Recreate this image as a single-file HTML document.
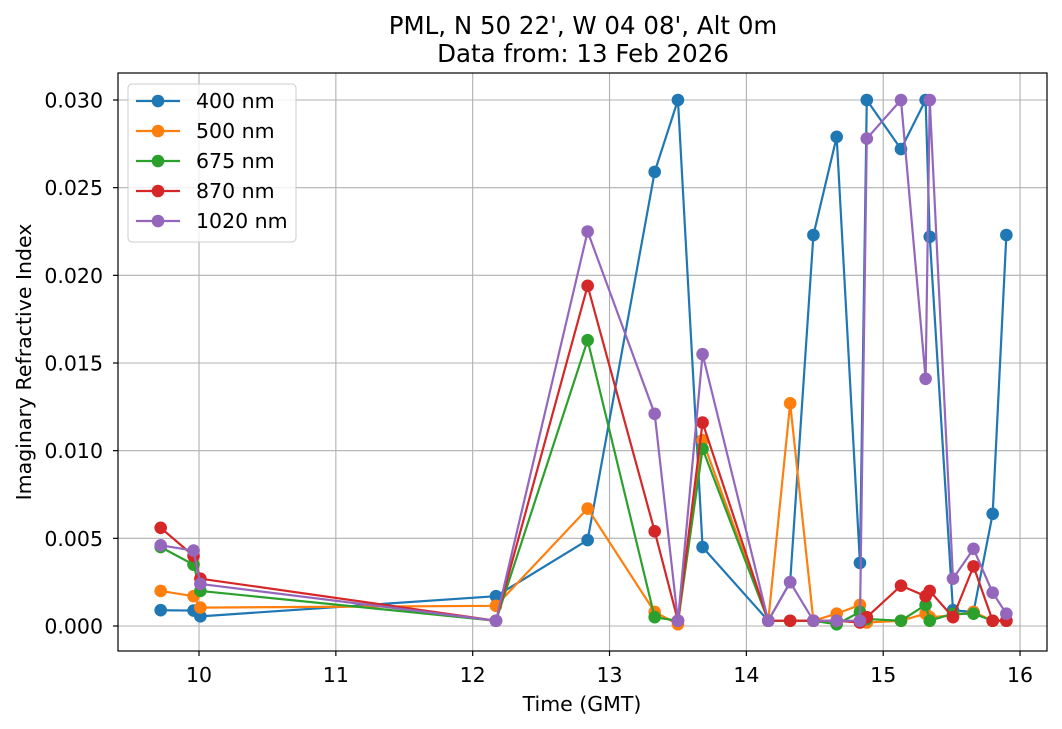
<!DOCTYPE html>
<html><head><meta charset="utf-8"><style>
body{margin:0;background:#fff;}
svg{display:block;font-family:"DejaVu Sans","Liberation Sans",sans-serif;}
</style></head><body>
<svg id="chart" width="1062" height="729" viewBox="0 0 1062 729" xmlns="http://www.w3.org/2000/svg">
<rect width="1062" height="729" fill="#fff"/>
<text x="583" y="34" font-size="24.5" text-anchor="middle">PML, N 50 22', W 04 08', Alt 0m</text>
<text x="583" y="62" font-size="24.5" text-anchor="middle">Data from: 13 Feb 2026</text>
<g id="grid"></g>
<g id="series"></g>
<rect x="118" y="73" width="929" height="578" fill="none" stroke="#000" stroke-width="1.2"/>
<g id="ticks"></g>
<text x="582" y="711" font-size="20.5" text-anchor="middle">Time (GMT)</text>
<text x="31" y="362" font-size="20.5" text-anchor="middle" transform="rotate(-90 31 362)">Imaginary Refractive Index</text>
<g id="legend"></g>
</svg>
<script>
const times = [9.72,9.96,10.01,12.17,12.84,13.33,13.50,13.68,14.16,14.32,14.49,14.66,14.83,14.88,15.13,15.31,15.34,15.51,15.66,15.80,15.90];
const s400 = [0.0009,0.00088,0.00055,0.0017,0.0049,0.0259,0.030,0.0045,0.0003,0.0025,0.0223,0.0279,0.0036,0.030,0.0272,0.030,0.0222,0.0009,0.0008,0.0064,0.0223];
const s500 = [0.0020,0.0017,0.00105,0.00115,0.0067,0.0008,0.0001,0.0106,0.0003,0.0127,0.0003,0.0007,0.0012,0.0002,0.0003,0.0007,0.0005,0.0006,0.0008,0.0003,0.0003];
const s675 = [0.0045,0.0035,0.0020,0.0003,0.0163,0.0005,0.0003,0.0101,0.0003,0.0003,0.0003,0.0001,0.0008,0.0004,0.0003,0.0012,0.0003,0.0007,0.0007,0.0003,0.0003];
const s870 = [0.0056,0.0040,0.0027,0.0003,0.0194,0.0054,0.0003,0.0116,0.0003,0.0003,0.0003,0.0003,0.0002,0.0005,0.0023,0.0017,0.0020,0.0005,0.0034,0.0003,0.0003];
const s1020 = [0.0046,0.0043,0.0024,0.0003,0.0225,0.0121,0.0003,0.0155,0.0003,0.0025,0.0003,0.0003,0.0003,0.0278,0.030,0.0141,0.030,0.0027,0.0044,0.0019,0.0007];
const seriesNames = ["400 nm","500 nm","675 nm","870 nm","1020 nm"];
const xTicks = [10,11,12,13,14,15,16];
const yTicks = [0,0.005,0.010,0.015,0.020,0.025,0.030];
const yTickLabels = ["0.000","0.005","0.010","0.015","0.020","0.025","0.030"];

const NS="http://www.w3.org/2000/svg";
const X0=118,X1=1047,Y0=73,Y1=651;
const xmin=9.408,xmax=16.197,ymin=-0.001426,ymax=0.03154;
const xs=v=>X0+(v-xmin)/(xmax-xmin)*(X1-X0);
const ys=v=>Y1-(v-ymin)/(ymax-ymin)*(Y1-Y0);
function mk(tag,attrs,parent){const e=document.createElementNS(NS,tag);for(const k in attrs)e.setAttribute(k,attrs[k]);parent.appendChild(e);return e;}
const grid=document.getElementById('grid'),ticks=document.getElementById('ticks'),ser=document.getElementById('series'),leg=document.getElementById('legend');
xTicks.forEach(t=>{
  const x=xs(t);
  const g=mk('line',{x1:x,x2:x,y1:Y0,y2:Y1,stroke:'#b0b0b0','stroke-width':1.1},grid);
  
  
  mk('line',{x1:x,x2:x,y1:Y1,y2:Y1+5,stroke:'#000','stroke-width':1.2},ticks);
  const tx=mk('text',{x:x,y:Y1+31,'font-size':20.5,'text-anchor':'middle'},ticks);
  tx.textContent=t;
  
  
});
yTicks.forEach((t,i)=>{
  const y=ys(t);
  const g=mk('line',{x1:X0,x2:X1,y1:y,y2:y,stroke:'#b0b0b0','stroke-width':1.1},grid);
  
  
  mk('line',{x1:X0-5,x2:X0,y1:y,y2:y,stroke:'#000','stroke-width':1.2},ticks);
  const tx=mk('text',{x:X0-15,y:y+7.5,'font-size':20.5,'text-anchor':'end'},ticks);
  tx.textContent=yTickLabels[i];
  
  
});
const allSeries=[s400,s500,s675,s870,s1020];
const colors=['#1f77b4','#ff7f0e','#2ca02c','#d62728','#9467bd'];
allSeries.forEach((s,k)=>{
  const g=mk('g',{},ser);
  
  
  const pts=times.map((t,i)=>xs(t)+','+ys(s[i])).join(' ');
  mk('polyline',{points:pts,fill:'none',stroke:colors[k],'stroke-width':2.2,'stroke-linejoin':'round'},g);
  times.forEach((t,i)=>{
    const c=mk('circle',{cx:xs(t),cy:ys(s[i]),r:6.3,fill:colors[k]},g);
    
    
  });
});
mk('rect',{x:128,y:84,width:168,height:158,rx:4,fill:'#fff','fill-opacity':0.8,stroke:'#ccc','stroke-width':1},leg);
seriesNames.forEach((n,k)=>{
  const y=101+k*30;
  const e=mk('g',{},leg);
  
  
  mk('line',{x1:136,x2:180,y1:y,y2:y,stroke:colors[k],'stroke-width':2.2},e);
  mk('circle',{cx:158,cy:y,r:6.3,fill:colors[k]},e);
  const t=mk('text',{x:196,y:y+7,'font-size':20.5},e);
  t.textContent=n;
});
</script>
</body></html>
